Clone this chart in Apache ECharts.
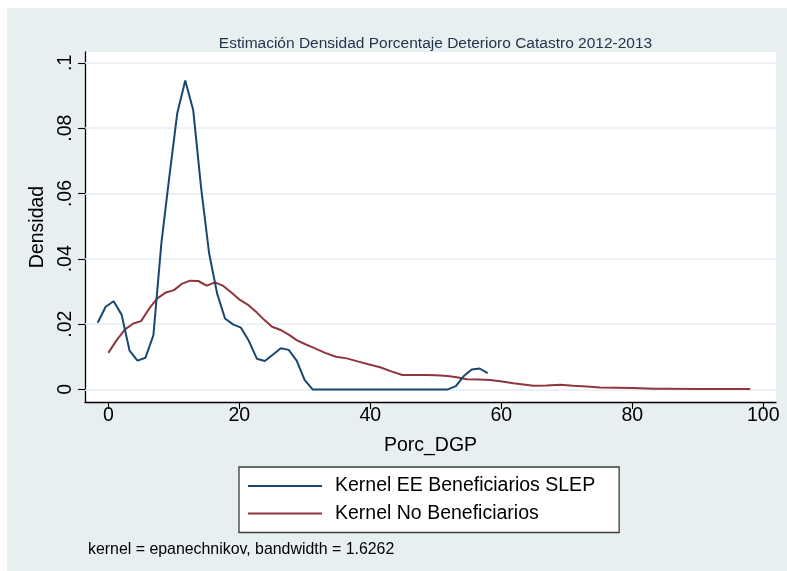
<!DOCTYPE html>
<html>
<head>
<meta charset="utf-8">
<script src="https://cdn.jsdelivr.net/npm/echarts@6/dist/echarts.min.js"></script>
<style>
html,body{margin:0;padding:0;background:#ffffff;}
#c{width:787px;height:571px;}
</style>
</head>
<body>
<div id="c"></div>
<script>
// ---- data ----
var titleText = 'Estimación Densidad Porcentaje Deterioro Catastro 2012-2013';
var xAxisName = 'Porc_DGP';
var yAxisName = 'Densidad';
var noteText = 'kernel = epanechnikov, bandwidth = 1.6262';
var seriesNames = ['Kernel EE Beneficiarios SLEP', 'Kernel No Beneficiarios'];

var xTickValues = [0, 20, 40, 60, 80, 100];
var xTickLabels = ['0', '20', '40', '60', '80', '100'];
var yTickValues = [0, 0.02, 0.04, 0.06, 0.08, 0.1];
var yTickLabels = ['0', '.02', '.04', '.06', '.08', '.1'];

var blueX = [-1.62, -0.4, 0.81, 2.03, 3.24, 4.46, 5.67, 6.89, 8.1, 9.32,
  10.53, 11.75, 12.96, 14.18, 15.39, 16.61, 17.82, 19.04, 20.25, 21.47,
  22.68, 23.9, 25.11, 26.33, 27.54, 28.76, 29.97, 31.19, 32.4, 33.62,
  34.83, 36.05, 37.26, 38.48, 39.69, 40.91, 42.12, 43.34, 44.55, 45.77,
  46.98, 48.2, 49.41, 50.63, 51.84, 53.06, 54.27, 55.49, 56.7, 57.92];
var blueY = [0.0204, 0.0253, 0.0270, 0.0229, 0.0119, 0.0088, 0.0097, 0.0166, 0.0447, 0.0652,
  0.0846, 0.0946, 0.0856, 0.0616, 0.0417, 0.0294, 0.0217, 0.0199, 0.0189, 0.0148,
  0.0094, 0.0087, 0.0106, 0.0126, 0.0121, 0.0088, 0.0029, 0.0000, 0.0000, 0.0000,
  0.0000, 0.0000, 0.0000, 0.0000, 0.0000, 0.0000, 0.0000, 0.0000, 0.0000, 0.0000,
  0.0000, 0.0000, 0.0000, 0.0000, 0.0000, 0.0010, 0.0041, 0.0061, 0.0064, 0.0050];

var redX = [0.0, 1.28, 2.55, 3.82, 5.0, 6.26, 7.48, 8.8, 10.03, 11.2,
  12.47, 13.74, 15.02, 16.3, 17.56, 18.83, 20.1, 21.4, 22.65, 23.8,
  25.0, 26.3, 27.6, 28.76, 30.0, 31.3, 33.1, 34.76, 36.4, 38.2,
  39.7, 41.5, 43.1, 44.9, 46.6, 48.35, 50.1, 51.8, 53.2, 54.7,
  56.5, 58.3, 60.1, 61.85, 63.4, 64.9, 66.9, 69.0, 71.0, 73.0,
  75.1, 77.6, 80.15, 83.2, 85.25, 90.3, 95.4, 98.0];
var redY = [0.0112, 0.0151, 0.0184, 0.0202, 0.0209, 0.0248, 0.0279, 0.0297, 0.0304, 0.0323,
  0.0333, 0.0332, 0.0318, 0.0328, 0.0317, 0.0296, 0.0274, 0.0258, 0.0236, 0.0213,
  0.0192, 0.0182, 0.0167, 0.0151, 0.0139, 0.0128, 0.0112, 0.0100, 0.0095, 0.0085,
  0.0077, 0.0068, 0.0056, 0.0044, 0.0044, 0.0044, 0.0043, 0.0041, 0.0037, 0.0031,
  0.0030, 0.0029, 0.0024, 0.0019, 0.0015, 0.0011, 0.0012, 0.0014, 0.0011, 0.0009,
  0.0006, 0.0005, 0.0004, 0.0002, 0.0002, 0.0001, 0.0001, 0.0001];

// ---- chart ----
var FONT = 'Liberation Sans, Arial, Helvetica, sans-serif';
var BG = '#e8eff1';
var chart = echarts.init(document.getElementById('c'), null, {renderer: 'canvas'});

function pairs(xs, ys) { return xs.map(function (x, i) { return [x, ys[i]]; }); }

var option = {
  animation: false,
  backgroundColor: 'transparent',
  textStyle: {fontFamily: FONT},
  graphic: [
    {type: 'rect', left: 7, top: 8, z: -10, silent: true,
     shape: {width: 780, height: 563}, style: {fill: BG}},
    {type: 'text', left: 88, top: 542, z: 10, silent: true,
     style: {text: noteText, font: '15.9px ' + FONT, fill: '#000'}}
  ],
  title: {
    text: titleText,
    left: 430.5, top: 31, textAlign: 'center',
    textStyle: {fontFamily: FONT, fontSize: 15.5, fontWeight: 'normal', color: '#24344e'}
  },
  grid: {
    left: 85, top: 52, right: 11, bottom: 169,
    show: true, backgroundColor: '#ffffff', borderWidth: 0, containLabel: false
  },
  legend: {
    orient: 'vertical', left: 239, top: 467,
    data: seriesNames.map(function (n) { return {name: n, icon: 'rect'}; }),
    itemWidth: 74, itemHeight: 2, itemGap: 7.5,
    padding: [9, 24, 9, 9],
    backgroundColor: '#ffffff', borderColor: '#3a3a3a', borderWidth: 1.3, borderRadius: 0,
    textStyle: {fontFamily: FONT, fontSize: 19.5, color: '#000', lineHeight: 20, padding: [0, 0, 0, 8]}
  },
  xAxis: {
    type: 'value', min: -3.557, max: 101.94,
    name: xAxisName, nameLocation: 'middle', nameGap: 34,
    nameTextStyle: {fontFamily: FONT, fontSize: 19.5, color: '#000'},
    axisLine: {show: true, onZero: false, lineStyle: {color: '#000', width: 1.3}},
    axisTick: {show: true, length: 7, customValues: xTickValues, lineStyle: {color: '#000', width: 1.1}},
    axisLabel: {show: true, customValues: xTickValues, margin: 4, fontFamily: FONT, fontSize: 19.5, color: '#000',
      formatter: function (v) { var i = xTickValues.indexOf(v); return i >= 0 ? xTickLabels[i] : ''; }},
    splitLine: {show: false}
  },
  yAxis: {
    type: 'value', min: -0.00386, max: 0.10334,
    name: yAxisName, nameLocation: 'middle', nameGap: 34, nameRotate: 90,
    nameTextStyle: {fontFamily: FONT, fontSize: 19.5, color: '#000'},
    axisLine: {show: true, onZero: false, lineStyle: {color: '#000', width: 1.3}},
    axisTick: {show: true, length: 7, customValues: yTickValues, lineStyle: {color: '#000', width: 1.1}},
    axisLabel: {show: true, customValues: yTickValues, rotate: 90, margin: 9, fontFamily: FONT, fontSize: 19.5, color: '#000',
      formatter: function (v) {
        for (var i = 0; i < yTickValues.length; i++) { if (Math.abs(yTickValues[i] - v) < 1e-9) return yTickLabels[i]; }
        return '';
      }},
    splitLine: {show: false}
  },
  series: [
    {
      name: seriesNames[0], type: 'line', data: pairs(blueX, blueY),
      symbol: 'none', showSymbol: false, smooth: false, z: 3,
      lineStyle: {color: '#1a476f', width: 2}, itemStyle: {color: '#1a476f'},
      markLine: {
        silent: true, symbol: ['none', 'none'], z: 1, animation: false,
        label: {show: false},
        lineStyle: {color: '#e4edf0', width: 1.7, type: 'solid'},
        emphasis: {disabled: true},
        data: yTickValues.map(function (v) { return {yAxis: v}; })
      }
    },
    {
      name: seriesNames[1], type: 'line', data: pairs(redX, redY),
      symbol: 'none', showSymbol: false, smooth: false, z: 2,
      lineStyle: {color: '#90353b', width: 2}, itemStyle: {color: '#90353b'}
    }
  ]
};
chart.setOption(option);
</script>
</body>
</html>
